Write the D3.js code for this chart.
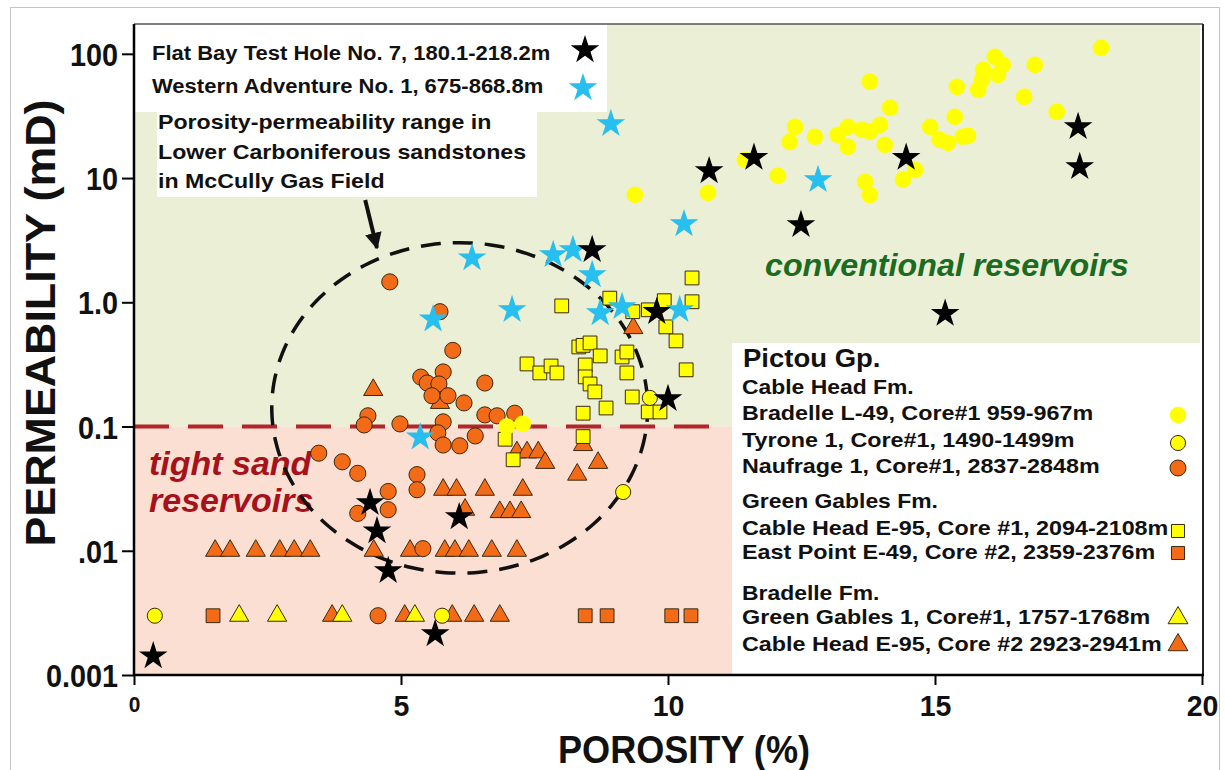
<!DOCTYPE html>
<html><head><meta charset="utf-8">
<script src="https://cdn.jsdelivr.net/npm/d3@7"></script>
<style>
body{margin:0;background:#fff}
svg{display:block}
text{font-family:Arial,"Liberation Sans",Helvetica,sans-serif;font-weight:bold;fill:#111}
</style>
</head><body>
<svg id="chart" width="1225" height="770"></svg>
<script>
// ---------------- DATA ----------------
const xTicks = [0, 5, 10, 15, 20];
const xTickLabels = ["0", "5", "10", "15", "20"];
const yTicks = [0.001, 0.01, 0.1, 1, 10, 100];
const yTickLabels = ["0.001", ".01", "0.1", "1.0", "10", "100"];

// [porosity %, permeability mD]
const flatBay = [[0.36,0.00142],[5.64,0.00214],[4.76,0.0069],[4.55,0.0144],[4.42,0.0243],[6.09,0.0187],[10.0,0.167],[9.79,0.84],[8.58,2.64],[10.77,11.4],[11.61,14.6],[12.49,4.2],[14.46,14.6],[15.19,0.81],[17.68,25.8],[17.71,12.3]];
const westernAdventure = [[8.93,27.3],[6.33,2.27],[5.6,0.73],[7.08,0.87],[7.85,2.41],[8.22,2.64],[8.58,1.66],[8.73,0.82],[9.14,0.92],[10.22,0.87],[10.3,4.27],[12.81,9.66],[5.36,0.082]];
const bradelleL49 = [[6.98,0.1],[7.28,0.105],[9.38,7.33],[10.75,7.6],[12.38,25.8],[12.28,19.5],[12.75,21.5],[12.06,10.4],[11.44,14.0],[13.78,59.6],[13.18,22.3],[13.37,25.8],[13.37,17.8],[13.63,24.4],[13.78,23.5],[13.97,26.8],[14.16,36.7],[14.06,18.5],[13.69,9.3],[13.78,7.3],[14.4,9.7],[14.63,11.6],[14.91,25.8],[15.09,20.3],[15.24,19.2],[15.37,31.1],[15.52,21.5],[15.62,21.9],[15.41,54.2],[15.81,51.3],[15.88,61.7],[15.9,74.3],[16.12,94.6],[16.27,81.5],[16.18,67.7],[16.87,81.5],[16.67,45.1],[17.28,34.1],[18.11,111.7]];
const tyrone1 = [[0.39,0.003],[5.77,0.003],[9.16,0.0297],[9.66,0.17]];
const naufrage1 = [[4.79,1.46],[5.73,0.84],[5.97,0.41],[5.37,0.25],[5.79,0.275],[5.49,0.224],[5.71,0.22],[5.58,0.177],[5.88,0.177],[6.18,0.155],[6.57,0.224],[6.57,0.124],[6.8,0.122],[7.13,0.128],[4.38,0.122],[4.31,0.103],[4.98,0.105],[5.79,0.109],[5.69,0.089],[6.39,0.084],[5.79,0.071],[6.1,0.07],[5.3,0.041],[5.3,0.031],[3.46,0.061],[3.9,0.052],[4.19,0.042],[4.76,0.030],[4.76,0.0214],[4.19,0.020],[4.57,0.003],[5.41,0.0104]];
const cableHeadCore1 = [[10.45,1.57],[10.45,1.01],[8.01,0.935],[8.91,1.08],[9.34,0.84],[9.63,0.87],[9.93,1.03],[9.96,0.634],[10.15,0.489],[10.34,0.286],[8.33,0.437],[8.41,0.45],[8.54,0.471],[8.73,0.37],[9.14,0.363],[9.23,0.398],[7.36,0.319],[7.6,0.27],[7.81,0.307],[7.92,0.27],[8.45,0.313],[8.45,0.251],[8.54,0.22],[8.63,0.19],[9.23,0.27],[9.33,0.173],[8.84,0.141],[8.41,0.128],[9.63,0.131],[9.85,0.131],[8.41,0.083],[6.95,0.079],[7.1,0.054]];
const eastPointE49 = [[1.48,0.003],[8.45,0.003],[8.86,0.003],[10.07,0.003],[10.43,0.003]];
const greenGables1 = [[1.97,0.003],[2.68,0.003],[3.9,0.003],[5.26,0.003]];
const cableHeadCore2 = [[1.52,0.01],[1.80,0.01],[2.28,0.01],[2.73,0.01],[3.0,0.01],[3.30,0.01],[4.49,0.01],[5.17,0.01],[5.82,0.01],[6.01,0.01],[6.27,0.01],[6.70,0.01],[7.17,0.01],
  [3.71,0.003],[5.07,0.003],[5.96,0.003],[6.37,0.003],[6.85,0.003],
  [7.17,0.062],[7.36,0.062],[7.57,0.062],[7.7,0.051],[8.3,0.041],[8.69,0.051],[8.41,0.071],[5.79,0.031],[6.04,0.031],[6.57,0.031],[7.28,0.031],[6.85,0.0205],[7.04,0.0205],[7.25,0.0205],[6.2,0.0214],[9.35,0.62],[4.48,0.197],[5.73,0.155]];

// McCully field range ellipse (porosity centre, log10 perm centre, porosity radius, decades radius)
const mcCully = {cx: 6.1, cyLog: -0.85, rx: 3.52, ryLog: 1.33};
const tightCutoff = 0.1;       // mD
const tightLineEnd = 10.83;     // porosity where dashed cutoff ends
const arrowFrom = [4.33, 6.65], arrowTo = [4.55, 2.74];

// ---------------- SCALES ----------------
const svg = d3.select("#chart");
const x = d3.scaleLinear().domain([0, 20]).range([134, 1202]);
const y = d3.scaleLog().domain([0.001, Math.pow(10, 2.24)]).range([675, 24]);

const C = {
  green:"#ebefd5", pink:"#fbdfd2", orange:"#f36b17", yellow:"#ffff00",
  blue:"#27bff0", stroke:"#3a2a10", red:"#b3252a", dgreen:"#1b6b22", dred:"#a5121c"
};

function stretch(sel, k){
  sel.each(function(){
    const w = this.getComputedTextLength();
    d3.select(this).attr("textLength", w*k).attr("lengthAdjust","spacingAndGlyphs");
  });
}

// outer figure border
svg.append("rect").attr("x",10.5).attr("y",7.5).attr("width",1209).attr("height",780)
  .attr("fill","none").attr("stroke","#c4c4c4").attr("stroke-width",1);

// backgrounds
svg.append("rect").attr("x",x(0)).attr("y",y.range()[1]).attr("width",x(20)-x(0)-2)
  .attr("height",y(tightCutoff)-y.range()[1]).attr("fill",C.green);
svg.append("rect").attr("x",x(0)).attr("y",y(tightCutoff)).attr("width",x(20)-x(0)-2)
  .attr("height",y(0.001)-y(tightCutoff)).attr("fill",C.pink);

// white boxes
svg.append("rect").attr("x",134).attr("y",24).attr("width",473).attr("height",88).attr("fill","#fff");
svg.append("rect").attr("x",157).attr("y",112).attr("width",380).attr("height",85).attr("fill","#fff");
svg.append("rect").attr("x",732).attr("y",343).attr("width",469).attr("height",332).attr("fill","#fff");

// frame
svg.append("line").attr("x1",134).attr("x2",1203).attr("y1",24).attr("y2",24).attr("stroke","#555").attr("stroke-width",1.5);
svg.append("line").attr("x1",1203).attr("x2",1203).attr("y1",24).attr("y2",676).attr("stroke","#222").attr("stroke-width",2);

// region labels
const conv = svg.append("text").attr("x",765).attr("y",276).attr("font-size",31)
  .attr("font-style","italic").style("fill",C.dgreen).text("conventional reservoirs");
stretch(conv,1.04);
const tight = svg.append("g").style("font-style","italic");
tight.append("text").attr("x",149).attr("y",475).attr("font-size",33).style("fill",C.dred).text("tight sand");
tight.append("text").attr("x",149).attr("y",512).attr("font-size",33).style("fill",C.dred).text("reservoirs");
stretch(tight.selectAll("text"),1.03);

// tight sand cutoff
svg.append("line").attr("x1",x(0)).attr("x2",x(tightLineEnd)).attr("y1",y(tightCutoff)).attr("y2",y(tightCutoff))
  .attr("stroke",C.red).attr("stroke-width",4).attr("stroke-dasharray","35,19");

// ellipse
const ellPts = d3.range(0, 360, 3).map(a => {
  const t = a*Math.PI/180;
  return [x(mcCully.cx + mcCully.rx*Math.cos(t)), y(Math.pow(10, mcCully.cyLog + mcCully.ryLog*Math.sin(t)))];
});
svg.append("path").attr("d", d3.line().curve(d3.curveCardinalClosed)(ellPts))
  .attr("fill","none").attr("stroke","#111").attr("stroke-width",3.5).attr("stroke-dasharray","20,12");

// arrow
svg.append("defs").append("marker").attr("id","ah").attr("viewBox","0 0 10 10").attr("refX",9).attr("refY",5)
  .attr("markerWidth",4.2).attr("markerHeight",4.2).attr("orient","auto").attr("markerUnits","strokeWidth")
  .append("path").attr("d","M0,0L10,5L0,10Z").attr("fill","#111");
svg.append("line").attr("x1",x(arrowFrom[0])).attr("y1",y(arrowFrom[1])).attr("x2",x(arrowTo[0])).attr("y2",y(arrowTo[1]))
  .attr("stroke","#111").attr("stroke-width",4).attr("marker-end","url(#ah)");

// annotation text
const ann = ["Porosity-permeability range in","Lower Carboniferous sandstones","in McCully Gas Field"];
const annT = svg.append("g").selectAll("text").data(ann).join("text")
  .attr("x",158).attr("y",(d,i)=>129+i*29.5).attr("font-size",20.5).text(d=>d);
stretch(annT,1.13);

// ---------------- MARKERS ----------------
const sym = (type,size) => d3.symbol().type(type).size(size)();
function plot(data, type, size, fill, stroke, sw){
  svg.append("g").selectAll("path").data(data).join("path")
    .attr("transform", d => `translate(${x(d[0])},${y(d[1])})`)
    .attr("d", sym(type,size)).attr("fill",fill)
    .attr("stroke", stroke || "none").attr("stroke-width", sw || 0);
}
const triSize=160, sqSize=190, cirSize=205, starSize=255;
plot(cableHeadCore2, d3.symbolTriangle, triSize, C.orange, C.stroke, 1);
plot(greenGables1, d3.symbolTriangle, triSize, C.yellow, C.stroke, 1);
plot(eastPointE49, d3.symbolSquare, sqSize, C.orange, C.stroke, 1);
plot(cableHeadCore1, d3.symbolSquare, sqSize, C.yellow, C.stroke, 1);
plot(naufrage1, d3.symbolCircle, cirSize, C.orange, C.stroke, 1);
plot(tyrone1, d3.symbolCircle, 180, C.yellow, C.stroke, 1);
plot(bradelleL49, d3.symbolCircle, 220, C.yellow);
plot(westernAdventure, d3.symbolStar, starSize, C.blue);
plot(flatBay, d3.symbolStar, starSize, "#000");

// ---------------- AXES ----------------
const yAxis = svg.append("g").attr("transform","translate(134,0)")
  .call(d3.axisLeft(y).tickValues(yTicks).tickFormat((d,i)=>yTickLabels[i]).tickSize(12).tickPadding(4));
yAxis.select(".domain").attr("stroke","#000").attr("stroke-width",2.5).attr("d","M0,24V676");
yAxis.selectAll(".tick line").attr("stroke","#000").attr("stroke-width",2);
yAxis.selectAll(".tick text").attr("font-size",32).attr("font-family",null).attr("dy","0.36em").style("fill","#111");
stretch(yAxis.selectAll(".tick text"),0.9);

const xAxis = svg.append("g").attr("transform","translate(0,675)")
  .call(d3.axisBottom(x).tickValues(xTicks).tickFormat((d,i)=>xTickLabels[i]).tickSize(10).tickPadding(6));
xAxis.select(".domain").attr("stroke","#000").attr("stroke-width",2.5).attr("d","M133,0H1204");
xAxis.selectAll(".tick line").attr("stroke","#000").attr("stroke-width",2);
xAxis.selectAll(".tick text").attr("font-size",d=>d===0?22:30).attr("font-family",null)
  .attr("dy",d=>d===0?"0.95em":"0.82em").style("fill","#111");
stretch(xAxis.selectAll(".tick text"),0.95);

svg.append("text").attr("x",684).attr("y",763).attr("text-anchor","middle").attr("font-size",39)
  .attr("textLength",252).attr("lengthAdjust","spacingAndGlyphs").text("POROSITY (%)");
svg.append("text").attr("transform","translate(55,323) rotate(-90)").attr("text-anchor","middle").attr("font-size",42)
  .attr("textLength",447).attr("lengthAdjust","spacingAndGlyphs").text("PERMEABILITY (mD)");

// ---------------- LEGENDS ----------------
const topLegend = [
  {label:"Flat Bay Test Hole No. 7, 180.1-218.2m", fill:"#000", ty:60, sy:50, sx:585},
  {label:"Western Adventure No. 1, 675-868.8m", fill:C.blue, ty:93, sy:88, sx:583}
];
const tl = svg.append("g");
const tlT = tl.selectAll("text").data(topLegend).join("text").attr("x",152).attr("y",d=>d.ty).attr("font-size",20).text(d=>d.label);
stretch(tlT,1.1);
tl.selectAll("path").data(topLegend).join("path").attr("transform",d=>`translate(${d.sx},${d.sy})`)
  .attr("d",sym(d3.symbolStar,starSize)).attr("fill",d=>d.fill);

const legendTitle = "Pictou Gp.";
const legendHeads = [["Cable Head Fm.",394],["Green Gables Fm.",508],["Bradelle Fm.",600]];
const legendItems = [
  {label:"Bradelle L-49, Core#1 959-967m", type:d3.symbolCircle, size:215, fill:C.yellow, stroke:null, ty:420, my:415},
  {label:"Tyrone 1, Core#1, 1490-1499m", type:d3.symbolCircle, size:180, fill:C.yellow, stroke:C.stroke, ty:447, my:443},
  {label:"Naufrage 1, Core#1, 2837-2848m", type:d3.symbolCircle, size:200, fill:C.orange, stroke:C.stroke, ty:473, my:468},
  {label:"Cable Head E-95, Core #1, 2094-2108m", type:d3.symbolSquare, size:170, fill:C.yellow, stroke:C.stroke, ty:535, my:531},
  {label:"East Point E-49, Core #2, 2359-2376m", type:d3.symbolSquare, size:170, fill:C.orange, stroke:C.stroke, ty:559, my:553},
  {label:"Green Gables 1, Core#1, 1757-1768m", type:d3.symbolTriangle, size:170, fill:C.yellow, stroke:C.stroke, ty:624, my:618},
  {label:"Cable Head E-95, Core #2 2923-2941m", type:d3.symbolTriangle, size:170, fill:C.orange, stroke:C.stroke, ty:651, my:645}
];
const lg = svg.append("g");
const lgTitle = lg.append("text").attr("x",743).attr("y",367).attr("font-size",25).text(legendTitle);
stretch(lgTitle,1.1);
const lgH = lg.selectAll("text.h").data(legendHeads).join("text").attr("class","h").attr("x",742).attr("y",d=>d[1]).attr("font-size",21).text(d=>d[0]);
stretch(lgH,1.09);
const lgI = lg.selectAll("text.i").data(legendItems).join("text").attr("class","i").attr("x",742).attr("y",d=>d.ty).attr("font-size",21).text(d=>d.label);
stretch(lgI,1.11);
lg.selectAll("path").data(legendItems).join("path").attr("transform",d=>`translate(1178,${d.my})`)
  .attr("d",d=>sym(d.type,d.size)).attr("fill",d=>d.fill).attr("stroke",d=>d.stroke||"none").attr("stroke-width",1);
</script>
</body></html>
